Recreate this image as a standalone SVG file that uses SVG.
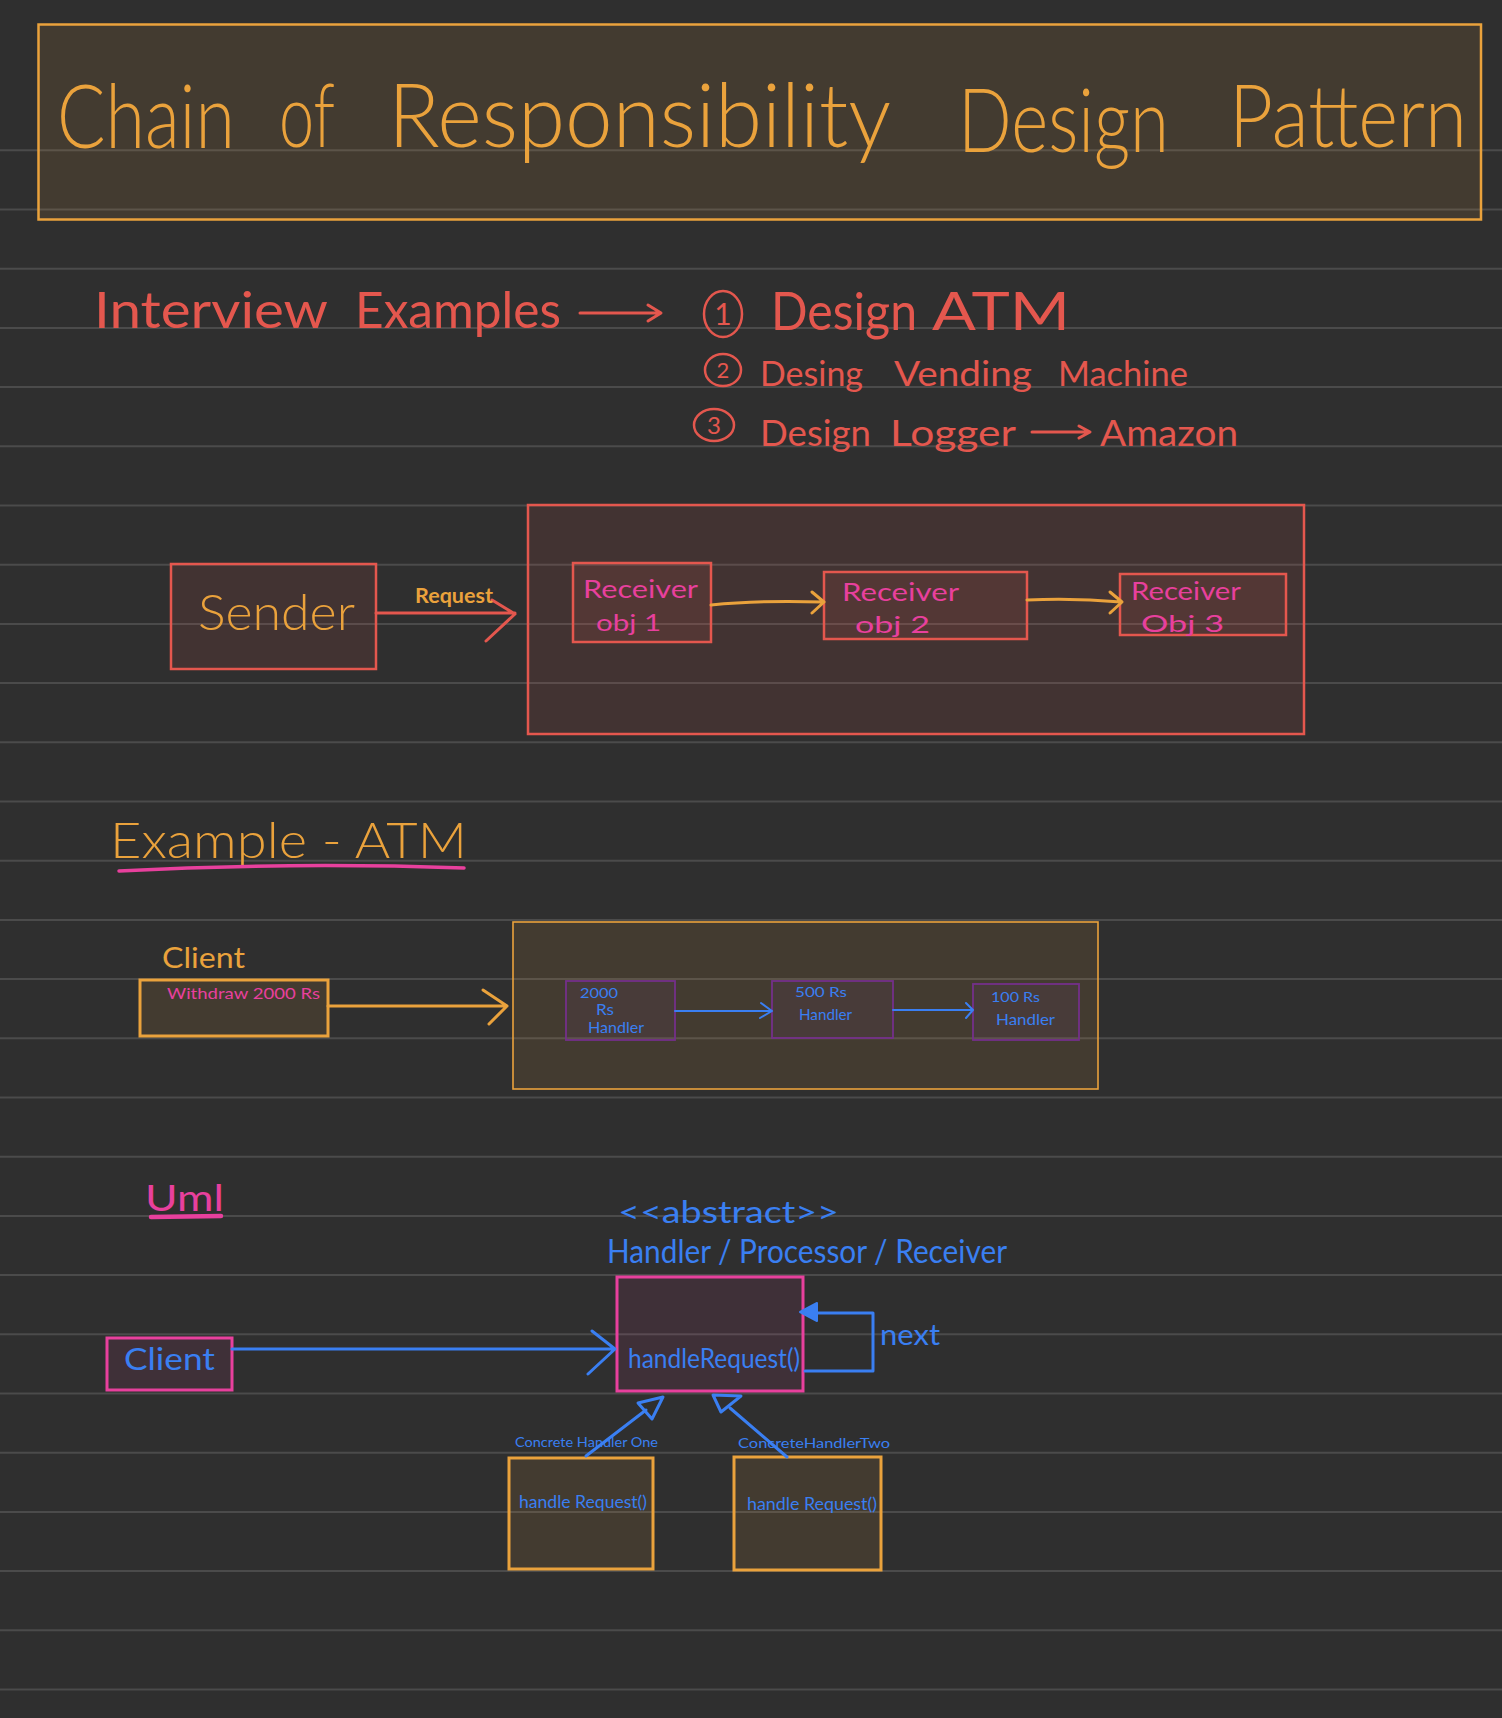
<svg xmlns="http://www.w3.org/2000/svg" width="1502" height="1718" viewBox="0 0 1502 1718">
<style>
text{font-family:"Lato","Liberation Sans","DejaVu Sans",sans-serif;}
.hand{font-weight:300;}
.or{fill:#eaa23c;}
.rd{fill:#e4574e;}
.pk{fill:#e8409d;}
.bl{fill:#3a7ff2;}
.rule{stroke:#4b4b4b;stroke-width:2;}
.boxO{fill:#eaa23c;fill-opacity:0.11;stroke:#eaa23c;}
.boxR{fill:#e4574e;fill-opacity:0.11;stroke:#e4574e;stroke-width:2.5;}
.boxP{fill:#e8409d;fill-opacity:0.09;stroke:#e8409d;stroke-width:3;}
.boxV{fill:#8a3aa0;fill-opacity:0.08;stroke:#74308a;stroke-width:1.8;}
.lnO{stroke:#eaa23c;fill:none;stroke-linecap:round;stroke-linejoin:round;}
.lnR{stroke:#e4574e;fill:none;stroke-linecap:round;stroke-linejoin:round;}
.lnB{stroke:#3a7ff2;fill:none;stroke-linecap:round;stroke-linejoin:round;}
.lnP{stroke:#e8409d;fill:none;stroke-linecap:round;}
</style>
<rect x="0" y="0" width="1502" height="1718" fill="#2f2f2f"/>
<g id="ruled-lines">
<line class="rule" x1="0" y1="150.3" x2="1502" y2="150.3"/>
<line class="rule" x1="0" y1="209.5" x2="1502" y2="209.5"/>
<line class="rule" x1="0" y1="268.7" x2="1502" y2="268.7"/>
<line class="rule" x1="0" y1="327.9" x2="1502" y2="327.9"/>
<line class="rule" x1="0" y1="387.1" x2="1502" y2="387.1"/>
<line class="rule" x1="0" y1="446.3" x2="1502" y2="446.3"/>
<line class="rule" x1="0" y1="505.5" x2="1502" y2="505.5"/>
<line class="rule" x1="0" y1="564.7" x2="1502" y2="564.7"/>
<line class="rule" x1="0" y1="623.9" x2="1502" y2="623.9"/>
<line class="rule" x1="0" y1="683.1" x2="1502" y2="683.1"/>
<line class="rule" x1="0" y1="742.3" x2="1502" y2="742.3"/>
<line class="rule" x1="0" y1="801.5" x2="1502" y2="801.5"/>
<line class="rule" x1="0" y1="860.7" x2="1502" y2="860.7"/>
<line class="rule" x1="0" y1="919.9" x2="1502" y2="919.9"/>
<line class="rule" x1="0" y1="979.1" x2="1502" y2="979.1"/>
<line class="rule" x1="0" y1="1038.3" x2="1502" y2="1038.3"/>
<line class="rule" x1="0" y1="1097.5" x2="1502" y2="1097.5"/>
<line class="rule" x1="0" y1="1156.7" x2="1502" y2="1156.7"/>
<line class="rule" x1="0" y1="1215.9" x2="1502" y2="1215.9"/>
<line class="rule" x1="0" y1="1275.1" x2="1502" y2="1275.1"/>
<line class="rule" x1="0" y1="1334.3" x2="1502" y2="1334.3"/>
<line class="rule" x1="0" y1="1393.5" x2="1502" y2="1393.5"/>
<line class="rule" x1="0" y1="1452.7" x2="1502" y2="1452.7"/>
<line class="rule" x1="0" y1="1511.9" x2="1502" y2="1511.9"/>
<line class="rule" x1="0" y1="1571.1" x2="1502" y2="1571.1"/>
<line class="rule" x1="0" y1="1630.3" x2="1502" y2="1630.3"/>
<line class="rule" x1="0" y1="1689.5" x2="1502" y2="1689.5"/>
</g>

<g id="title">
<rect class="boxO" x="38.5" y="24.5" width="1442.5" height="195" stroke-width="2.5"/>
<text class="or hand" font-size="88" x="57" y="148" textLength="178" lengthAdjust="spacingAndGlyphs">Chain</text>
<text class="or hand" font-size="88" x="279" y="147" textLength="56" lengthAdjust="spacingAndGlyphs">of</text>
<text class="or hand" font-size="88" x="388" y="147" textLength="503" lengthAdjust="spacingAndGlyphs">Responsibility</text>
<text class="or hand" font-size="88" x="958" y="152" textLength="211" lengthAdjust="spacingAndGlyphs">Design</text>
<text class="or hand" font-size="86" x="1229" y="147" textLength="238" lengthAdjust="spacingAndGlyphs">Pattern</text>
</g>

<g id="interview-examples">
<text class="rd" font-size="50" x="94" y="328" textLength="234" lengthAdjust="spacingAndGlyphs">Interview</text>
<text class="rd" font-size="50" x="355" y="328" textLength="206" lengthAdjust="spacingAndGlyphs">Examples</text>
</g>

<g id="example-1">
<ellipse cx="723" cy="314" rx="19" ry="23" fill="none" stroke="#e4574e" stroke-width="2.5"/>
<text class="rd" font-size="30" x="723" y="325" text-anchor="middle">1</text>
<text class="rd" font-size="52" x="771" y="330" textLength="146" lengthAdjust="spacingAndGlyphs">Design</text>
<text class="rd" font-size="52" x="932" y="330" textLength="138" lengthAdjust="spacingAndGlyphs">ATM</text>
</g>

<g id="example-2">
<ellipse cx="723" cy="370" rx="18" ry="16" fill="none" stroke="#e4574e" stroke-width="2.5"/>
<text class="rd" font-size="22" x="723" y="378" text-anchor="middle">2</text>
<text class="rd" font-size="34" x="760" y="386" textLength="103" lengthAdjust="spacingAndGlyphs">Desing</text>
<text class="rd" font-size="34" x="894" y="386" textLength="138" lengthAdjust="spacingAndGlyphs">Vending</text>
<text class="rd" font-size="34" x="1058" y="386" textLength="130" lengthAdjust="spacingAndGlyphs">Machine</text>
</g>

<g id="example-3">
<ellipse cx="714" cy="425" rx="20" ry="16" fill="none" stroke="#e4574e" stroke-width="2.5"/>
<text class="rd" font-size="24" x="714" y="434" text-anchor="middle">3</text>
<text class="rd" font-size="36" x="760" y="446" textLength="111" lengthAdjust="spacingAndGlyphs">Design</text>
<text class="rd" font-size="36" x="890" y="446" textLength="126" lengthAdjust="spacingAndGlyphs">Logger</text>
<text class="rd" font-size="36" x="1100" y="446" textLength="138" lengthAdjust="spacingAndGlyphs">Amazon</text>
</g>

<g id="sender">
<rect class="boxR" x="171" y="564" width="205" height="105"/>
<text class="or hand" font-size="50" x="198" y="630" textLength="157" lengthAdjust="spacingAndGlyphs">Sender</text>
</g>

<g id="receiver-chain">
<rect class="boxR" x="528" y="505" width="776" height="229"/>
</g>

<g id="receiver-1">
<rect class="boxR" x="573" y="563" width="138" height="79"/>
<text class="pk" font-size="25" x="583" y="598" textLength="115" lengthAdjust="spacingAndGlyphs">Receiver</text>
<text class="pk" font-size="24" x="596" y="631" textLength="65" lengthAdjust="spacingAndGlyphs">obj 1</text>
</g>

<g id="receiver-2">
<rect class="boxR" x="824" y="572" width="203" height="67"/>
<text class="pk" font-size="25" x="842" y="601" textLength="117" lengthAdjust="spacingAndGlyphs">Receiver</text>
<text class="pk" font-size="24" x="855" y="633" textLength="75" lengthAdjust="spacingAndGlyphs">obj 2</text>
</g>

<g id="receiver-3">
<rect class="boxR" x="1120" y="574" width="166" height="61"/>
<text class="pk" font-size="25" x="1131" y="600" textLength="110" lengthAdjust="spacingAndGlyphs">Receiver</text>
<text class="pk" font-size="24" x="1141" y="632" textLength="83" lengthAdjust="spacingAndGlyphs">Obj 3</text>
</g>

<g id="example-atm-heading">
<text class="or hand" font-size="50" x="110" y="858" textLength="357" lengthAdjust="spacingAndGlyphs">Example - ATM</text>
<path class="lnP" d="M119 871 Q 290 862 464 868" stroke-width="3.5"/>
</g>

<g id="atm-client">
<text class="or" font-size="28" x="162" y="968" textLength="83" lengthAdjust="spacingAndGlyphs">Client</text>
<rect class="boxO" x="140" y="980" width="188" height="56" stroke-width="3"/>
<text class="pk" font-size="15" x="167" y="999" textLength="153" lengthAdjust="spacingAndGlyphs">Withdraw  2000 Rs</text>
</g>

<g id="atm-chain">
<rect class="boxO" x="513" y="922" width="585" height="167" stroke-width="1.6"/>
</g>

<g id="handler-2000">
<rect class="boxV" x="566" y="981" width="109" height="59"/>
<text class="bl" font-size="14" x="580" y="998" textLength="38" lengthAdjust="spacingAndGlyphs">2000</text>
<text class="bl" font-size="15" x="596" y="1015" textLength="18" lengthAdjust="spacingAndGlyphs">Rs</text>
<text class="bl" font-size="15" x="588" y="1033" textLength="56" lengthAdjust="spacingAndGlyphs">Handler</text>
</g>

<g id="handler-500">
<rect class="boxV" x="772" y="981" width="121" height="57"/>
<text class="bl" font-size="14" x="795" y="997" textLength="52" lengthAdjust="spacingAndGlyphs">500 Rs</text>
<text class="bl" font-size="15" x="799" y="1020" textLength="53" lengthAdjust="spacingAndGlyphs">Handler</text>
</g>

<g id="handler-100">
<rect class="boxV" x="973" y="984" width="106" height="56"/>
<text class="bl" font-size="14" x="991" y="1002" textLength="49" lengthAdjust="spacingAndGlyphs">100 Rs</text>
<text class="bl" font-size="15" x="996" y="1025" textLength="59" lengthAdjust="spacingAndGlyphs">Handler</text>
</g>

<g id="uml-heading">
<text class="pk" font-size="36" x="145" y="1211" textLength="79" lengthAdjust="spacingAndGlyphs">Uml</text>
<line class="lnP" x1="151" y1="1217" x2="221" y2="1216" stroke-width="4.5"/>
</g>

<g id="handler-abstract">
<text class="bl" font-size="30" x="618" y="1223" textLength="221" lengthAdjust="spacingAndGlyphs">&lt;&lt;abstract&gt;&gt;</text>
<text class="bl" font-size="32" x="607" y="1263" textLength="400" lengthAdjust="spacingAndGlyphs">Handler / Processor / Receiver</text>
<rect class="boxP" x="617" y="1277" width="186" height="114"/>
<text class="bl" font-size="27" x="628" y="1368" textLength="172" lengthAdjust="spacingAndGlyphs">handleRequest()</text>
</g>

<g id="uml-client">
<rect class="boxP" x="107" y="1338" width="125" height="52"/>
<text class="bl" font-size="30" x="124" y="1370" textLength="91" lengthAdjust="spacingAndGlyphs">Client</text>
</g>

<g id="concrete-handler-one">
<text class="bl" font-size="14" x="515" y="1447" textLength="143" lengthAdjust="spacingAndGlyphs">Concrete Handler One</text>
<rect class="boxO" x="509" y="1458" width="144" height="111" stroke-width="3"/>
<text class="bl" font-size="17" x="519" y="1508" textLength="128" lengthAdjust="spacingAndGlyphs">handle Request()</text>
</g>

<g id="concrete-handler-two">
<text class="bl" font-size="14" x="738" y="1448" textLength="152" lengthAdjust="spacingAndGlyphs">ConcreteHandlerTwo</text>
<rect class="boxO" x="734" y="1457" width="147" height="113" stroke-width="3"/>
<text class="bl" font-size="17" x="747" y="1510" textLength="130" lengthAdjust="spacingAndGlyphs">handle Request()</text>
</g>

<g id="connectors">
<path class="lnR" stroke-width="3" d="M580 313 L660 313 M648 305 L661 313 L648 321"/>
<path class="lnR" stroke-width="3" d="M1032 432 L1089 432 M1079 426 L1090 432 L1079 438"/>
<path class="lnR" stroke-width="3" d="M376 613 L515 613 M492 600 L515 614 L486 641"/>
<text class="or" font-size="20" font-weight="bold" x="415" y="603" textLength="78" lengthAdjust="spacingAndGlyphs">Request</text>
<path class="lnO" stroke-width="3" d="M711 605 Q 760 600 823 602 M812 592 L824 602 L812 613"/>
<path class="lnO" stroke-width="3" d="M1027 600 Q 1075 598 1121 602 M1110 592 L1122 602 L1110 613"/>
<path class="lnO" stroke-width="3" d="M328 1006 L507 1006 M483 990 L507 1006 L489 1024"/>
<path class="lnB" stroke-width="2" d="M675 1011 L772 1011 M761 1003 L772 1011 L760 1018"/>
<path class="lnB" stroke-width="2" d="M893 1010 L973 1010 M966 1003 L973 1010 L966 1018"/>
<path class="lnB" stroke-width="3" d="M232 1349 L615 1349 M592 1331 L615 1349 L588 1374"/>
<path class="lnB" stroke-width="3" d="M805 1371 L873 1371 L873 1313 L815 1313"/>
<polygon points="800,1312 817,1303 817,1321" fill="#3a7ff2" stroke="#3a7ff2" stroke-width="2" stroke-linejoin="round"/>
<text class="bl" font-size="28" x="880" y="1345" textLength="60" lengthAdjust="spacingAndGlyphs">next</text>
<path class="lnB" stroke-width="3" d="M586 1456 L646 1410"/>
<polygon points="663,1397 638,1403 652,1419" fill="none" stroke="#3a7ff2" stroke-width="3" stroke-linejoin="round"/>
<path class="lnB" stroke-width="3" d="M787 1457 L730 1408"/>
<polygon points="713,1395 741,1396 721,1412" fill="none" stroke="#3a7ff2" stroke-width="3" stroke-linejoin="round"/>
</g>
</svg>
